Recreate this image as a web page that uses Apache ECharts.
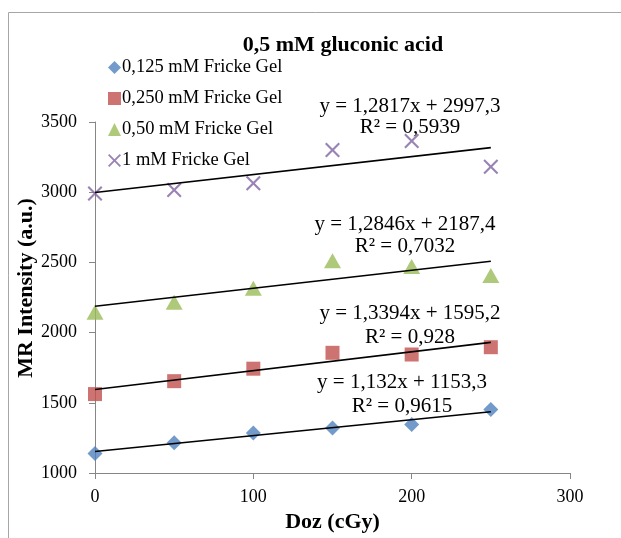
<!DOCTYPE html>
<html>
<head>
<meta charset="utf-8">
<script src="https://cdn.jsdelivr.net/npm/echarts@6/dist/echarts.min.js"></script>
<style>
html,body{margin:0;padding:0;background:#fff;}
#chart{width:621px;height:538px;}
</style>
</head>
<body>
<div id="chart"></div>
<script>
// ---- data ----
const doses = [0, 50, 100, 150, 200, 250];
const gel0125 = [1138, 1216, 1285, 1320, 1346, 1453];
const gel0250 = [1562, 1654, 1743, 1856, 1844, 1896];
const gel050 = [2145, 2216, 2316, 2512, 2470, 2406];
const gel1 = [2990, 3016, 3064, 3300, 3364, 3182];
const seriesNames = ['0,125 mM Fricke Gel', '0,250 mM Fricke Gel', '0,50 mM Fricke Gel', '1 mM Fricke Gel'];
// trend line end points (x = 0 and x = 250), read from the equations
const trendX = [0, 250];
const trendStart = [1153.3, 1595.2, 2187.4, 2997.3];
const trendEnd = [1436.3, 1930.1, 2508.6, 3317.7];
const equations = ['y = 1,132x + 1153,3', 'y = 1,3394x + 1595,2', 'y = 1,2846x + 2187,4', 'y = 1,2817x + 2997,3'];
const rSquared = ['R² = 0,9615', 'R² = 0,928', 'R² = 0,7032', 'R² = 0,5939'];
const xTicks = [0, 100, 200, 300];
const yTicks = [1000, 1500, 2000, 2500, 3000, 3500];

const FONT = "'Liberation Serif', 'Times New Roman', serif";
const colors = ['#4F81BD', '#C0504D', '#9BBB59', '#8064A2'];
const XPATH = 'path://M0,1L1,0L5,4L9,0L10,1L6,5L10,9L9,10L5,6L1,10L0,9L4,5Z';
const symbols = ['diamond', 'rect', 'triangle', XPATH];
const symbolSizes = [15, 14, [17, 15], 15];
const allData = [gel0125, gel0250, gel050, gel1];

const series = [];
allData.forEach((vals, i) => {
  series.push({
    name: seriesNames[i],
    type: 'scatter',
    symbol: symbols[i],
    symbolSize: symbolSizes[i],
    itemStyle: { color: colors[i] },
    data: doses.map((d, k) => [d, vals[k]]),
    z: 3
  });
});
allData.forEach((vals, i) => {
  series.push({
    name: 'trend' + i,
    type: 'line',
    symbol: 'none',
    lineStyle: { color: '#000', width: 1.6 },
    data: [[trendX[0], trendStart[i]], [trendX[1], trendEnd[i]]],
    z: 4,
    silent: true
  });
});

// annotation positions (pixels) for the equations, bottom series first
const eqPos = [[402, 382, 406], [410, 313, 337], [405, 224, 246], [410, 106, 127]];
const graphics = [
  { type: 'rect', left: 6, top: 10, shape: { width: 700, height: 700 },
    style: { fill: 'none', stroke: '#A6A6A6', lineWidth: 1 }, silent: true },
  { type: 'text', x: 26, y: 288, rotation: Math.PI / 2,
    style: { text: 'MR Intensity (a.u.)', font: 'bold 22px ' + FONT, fill: '#000',
      textAlign: 'center', textVerticalAlign: 'middle' } }
];
equations.forEach((eq, i) => {
  graphics.push({ type: 'text', x: eqPos[i][0], y: eqPos[i][1], z: 10,
    style: { text: eq, font: '21px ' + FONT, fill: '#000', textAlign: 'center', textVerticalAlign: 'middle' } });
  graphics.push({ type: 'text', x: eqPos[i][0], y: eqPos[i][2], z: 10,
    style: { text: rSquared[i], font: '21px ' + FONT, fill: '#000', textAlign: 'center', textVerticalAlign: 'middle' } });
});

const chart = echarts.init(document.getElementById('chart'), null, { renderer: 'canvas' });
chart.setOption({
  animation: false,
  backgroundColor: '#fff',
  title: {
    text: '0,5 mM gluconic acid',
    left: 338, top: 29, textAlign: 'center',
    textStyle: { fontFamily: FONT, fontWeight: 'bold', fontSize: 22, color: '#000' }
  },
  legend: {
    data: seriesNames,
    orient: 'vertical',
    left: 103, top: 53,
    itemWidth: 13, itemHeight: 13,
    itemGap: 12,
    textStyle: { fontFamily: FONT, fontSize: 18.5, color: '#000', lineHeight: 18, padding: [0, 0, 0, -4] },
    selectedMode: false
  },
  grid: { left: 95, right: 51, top: 122, bottom: 65 },
  xAxis: {
    type: 'value', min: xTicks[0], max: xTicks[xTicks.length - 1], interval: 100,
    name: 'Doz (cGy)', nameLocation: 'middle', nameGap: 38,
    nameTextStyle: { fontFamily: FONT, fontWeight: 'bold', fontSize: 22, color: '#000' },
    axisLine: { show: true, lineStyle: { color: '#868686', width: 1 } },
    axisTick: { show: true, length: 6, lineStyle: { color: '#868686' } },
    axisLabel: { fontFamily: FONT, fontSize: 18, color: '#000', margin: 15, formatter: v => String(v) },
    splitLine: { show: false }
  },
  yAxis: {
    type: 'value', min: yTicks[0], max: yTicks[yTicks.length - 1], interval: 500,
    axisLine: { show: true, lineStyle: { color: '#868686', width: 1 } },
    axisTick: { show: true, length: 6, lineStyle: { color: '#868686' } },
    axisLabel: { fontFamily: FONT, fontSize: 18, color: '#000', margin: 18, formatter: v => String(v) },
    splitLine: { show: false }
  },
  graphic: graphics,
  series: series
});
</script>
</body>
</html>
